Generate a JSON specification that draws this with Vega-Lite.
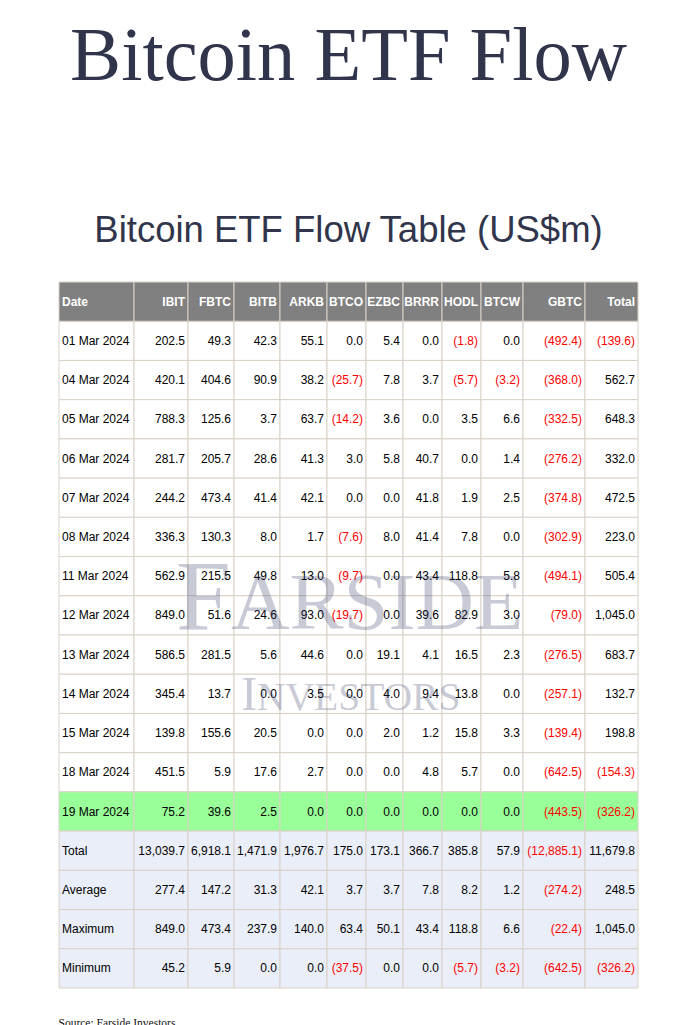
{
  "$schema": "https://vega.github.io/schema/vega-lite/v6.json",
  "padding": {"left": 58, "top": 18, "right": 0, "bottom": 0},
  "background": "#ffffff",
  "config": {
    "view": {"stroke": null},
    "rect": {"stroke": "#d9d1c6", "strokeWidth": 1},
    "text": {"font": "Liberation Sans", "fontSize": 12, "baseline": "middle", "color": "#000000"}
  },
  "datasets": {
    "flows": [
      {"Date": "01 Mar 2024", "IBIT": 202.5, "FBTC": 49.3, "BITB": 42.3, "ARKB": 55.1, "BTCO": 0.0, "EZBC": 5.4, "BRRR": 0.0, "HODL": -1.8, "BTCW": 0.0, "GBTC": -492.4, "Total": -139.6},
      {"Date": "04 Mar 2024", "IBIT": 420.1, "FBTC": 404.6, "BITB": 90.9, "ARKB": 38.2, "BTCO": -25.7, "EZBC": 7.8, "BRRR": 3.7, "HODL": -5.7, "BTCW": -3.2, "GBTC": -368.0, "Total": 562.7},
      {"Date": "05 Mar 2024", "IBIT": 788.3, "FBTC": 125.6, "BITB": 3.7, "ARKB": 63.7, "BTCO": -14.2, "EZBC": 3.6, "BRRR": 0.0, "HODL": 3.5, "BTCW": 6.6, "GBTC": -332.5, "Total": 648.3},
      {"Date": "06 Mar 2024", "IBIT": 281.7, "FBTC": 205.7, "BITB": 28.6, "ARKB": 41.3, "BTCO": 3.0, "EZBC": 5.8, "BRRR": 40.7, "HODL": 0.0, "BTCW": 1.4, "GBTC": -276.2, "Total": 332.0},
      {"Date": "07 Mar 2024", "IBIT": 244.2, "FBTC": 473.4, "BITB": 41.4, "ARKB": 42.1, "BTCO": 0.0, "EZBC": 0.0, "BRRR": 41.8, "HODL": 1.9, "BTCW": 2.5, "GBTC": -374.8, "Total": 472.5},
      {"Date": "08 Mar 2024", "IBIT": 336.3, "FBTC": 130.3, "BITB": 8.0, "ARKB": 1.7, "BTCO": -7.6, "EZBC": 8.0, "BRRR": 41.4, "HODL": 7.8, "BTCW": 0.0, "GBTC": -302.9, "Total": 223.0},
      {"Date": "11 Mar 2024", "IBIT": 562.9, "FBTC": 215.5, "BITB": 49.8, "ARKB": 13.0, "BTCO": -9.7, "EZBC": 0.0, "BRRR": 43.4, "HODL": 118.8, "BTCW": 5.8, "GBTC": -494.1, "Total": 505.4},
      {"Date": "12 Mar 2024", "IBIT": 849.0, "FBTC": 51.6, "BITB": 24.6, "ARKB": 93.0, "BTCO": -19.7, "EZBC": 0.0, "BRRR": 39.6, "HODL": 82.9, "BTCW": 3.0, "GBTC": -79.0, "Total": 1045.0},
      {"Date": "13 Mar 2024", "IBIT": 586.5, "FBTC": 281.5, "BITB": 5.6, "ARKB": 44.6, "BTCO": 0.0, "EZBC": 19.1, "BRRR": 4.1, "HODL": 16.5, "BTCW": 2.3, "GBTC": -276.5, "Total": 683.7},
      {"Date": "14 Mar 2024", "IBIT": 345.4, "FBTC": 13.7, "BITB": 0.0, "ARKB": 3.5, "BTCO": 0.0, "EZBC": 4.0, "BRRR": 9.4, "HODL": 13.8, "BTCW": 0.0, "GBTC": -257.1, "Total": 132.7},
      {"Date": "15 Mar 2024", "IBIT": 139.8, "FBTC": 155.6, "BITB": 20.5, "ARKB": 0.0, "BTCO": 0.0, "EZBC": 2.0, "BRRR": 1.2, "HODL": 15.8, "BTCW": 3.3, "GBTC": -139.4, "Total": 198.8},
      {"Date": "18 Mar 2024", "IBIT": 451.5, "FBTC": 5.9, "BITB": 17.6, "ARKB": 2.7, "BTCO": 0.0, "EZBC": 0.0, "BRRR": 4.8, "HODL": 5.7, "BTCW": 0.0, "GBTC": -642.5, "Total": -154.3},
      {"Date": "19 Mar 2024", "IBIT": 75.2, "FBTC": 39.6, "BITB": 2.5, "ARKB": 0.0, "BTCO": 0.0, "EZBC": 0.0, "BRRR": 0.0, "HODL": 0.0, "BTCW": 0.0, "GBTC": -443.5, "Total": -326.2},
      {"Date": "Total", "IBIT": 13039.7, "FBTC": 6918.1, "BITB": 1471.9, "ARKB": 1976.7, "BTCO": 175.0, "EZBC": 173.1, "BRRR": 366.7, "HODL": 385.8, "BTCW": 57.9, "GBTC": -12885.1, "Total": 11679.8},
      {"Date": "Average", "IBIT": 277.4, "FBTC": 147.2, "BITB": 31.3, "ARKB": 42.1, "BTCO": 3.7, "EZBC": 3.7, "BRRR": 7.8, "HODL": 8.2, "BTCW": 1.2, "GBTC": -274.2, "Total": 248.5},
      {"Date": "Maximum", "IBIT": 849.0, "FBTC": 473.4, "BITB": 237.9, "ARKB": 140.0, "BTCO": 63.4, "EZBC": 50.1, "BRRR": 43.4, "HODL": 118.8, "BTCW": 6.6, "GBTC": -22.4, "Total": 1045.0},
      {"Date": "Minimum", "IBIT": 45.2, "FBTC": 5.9, "BITB": 0.0, "ARKB": 0.0, "BTCO": -37.5, "EZBC": 0.0, "BRRR": 0.0, "HODL": -5.7, "BTCW": -3.2, "GBTC": -642.5, "Total": -326.2}
    ]
  },
  "title": {
    "text": "Bitcoin ETF Flow",
    "subtitle": "Bitcoin ETF Flow Table (US$m)",
    "font": "Liberation Serif",
    "fontSize": 76.5,
    "fontWeight": "normal",
    "color": "#31354b",
    "subtitleFont": "Liberation Sans",
    "subtitleFontSize": 36.5,
    "subtitleColor": "#31354b",
    "subtitlePadding": 117,
    "anchor": "middle",
    "offset": 31
  },
  "vconcat": [
    {
      "title": {"text": "Source: Farside Investors", "orient": "bottom", "anchor": "start", "font": "Liberation Serif", "fontSize": 11.5, "fontWeight": "normal", "color": "#111111", "offset": 29},
      "spacing": 0,
      "bounds": "flush",
      "resolve": {"scale": {"x": "independent", "y": "independent"}},
      "hconcat": [
        {
          "width": 75, "height": 706, "data": {"name": "flows"},
          "layer": [
            {"mark": "rect", "encoding": {"y": {"field": "Date", "type": "nominal", "axis": null, "scale": {"domain": ["Date","01 Mar 2024","04 Mar 2024","05 Mar 2024","06 Mar 2024","07 Mar 2024","08 Mar 2024","11 Mar 2024","12 Mar 2024","13 Mar 2024","14 Mar 2024","15 Mar 2024","18 Mar 2024","19 Mar 2024","Total","Average","Maximum","Minimum"], "paddingInner": 0, "paddingOuter": 0}}, "fill": {"condition": [{"test": "datum.Date === '19 Mar 2024'", "value": "#99ff99"}, {"test": "indexof(['Total','Average','Maximum','Minimum'], datum.Date) >= 0", "value": "#eaeef8"}], "value": "#ffffff"}}},
            {"mark": {"type": "text", "align": "left", "dx": 3}, "encoding": {"x": {"value": 0}, "y": {"field": "Date", "type": "nominal"}, "text": {"field": "Date"}}},
            {"data": {"values": [{"label": "Date"}]}, "mark": {"type": "rect", "fill": "#808080"}, "encoding": {"y": {"datum": "Date", "type": "nominal"}}},
            {"data": {"values": [{"label": "Date"}]}, "mark": {"type": "text", "align": "left", "dx": 3, "fontWeight": "bold", "color": "#ffffff"}, "encoding": {"x": {"value": 0}, "y": {"datum": "Date", "type": "nominal"}, "text": {"field": "label"}}}
          ]
        },
        {
          "width": 54, "height": 706, "data": {"name": "flows"},
          "layer": [
            {"mark": "rect", "encoding": {"y": {"field": "Date", "type": "nominal", "axis": null, "scale": {"domain": ["Date","01 Mar 2024","04 Mar 2024","05 Mar 2024","06 Mar 2024","07 Mar 2024","08 Mar 2024","11 Mar 2024","12 Mar 2024","13 Mar 2024","14 Mar 2024","15 Mar 2024","18 Mar 2024","19 Mar 2024","Total","Average","Maximum","Minimum"], "paddingInner": 0, "paddingOuter": 0}}, "fill": {"condition": [{"test": "datum.Date === '19 Mar 2024'", "value": "#99ff99"}, {"test": "indexof(['Total','Average','Maximum','Minimum'], datum.Date) >= 0", "value": "#eaeef8"}], "value": "#ffffff"}}},
            {"mark": {"type": "text", "align": "right", "dx": -3}, "encoding": {"x": {"value": "width"}, "y": {"field": "Date", "type": "nominal"}, "text": {"field": "IBIT", "type": "quantitative", "format": "(,.1f"}, "color": {"condition": {"test": "datum['IBIT'] < 0", "value": "#ff0000"}, "value": "#000000"}}},
            {"data": {"values": [{"label": "IBIT"}]}, "mark": {"type": "rect", "fill": "#808080"}, "encoding": {"y": {"datum": "Date", "type": "nominal"}}},
            {"data": {"values": [{"label": "IBIT"}]}, "mark": {"type": "text", "align": "right", "dx": -3, "fontWeight": "bold", "color": "#ffffff"}, "encoding": {"x": {"value": "width"}, "y": {"datum": "Date", "type": "nominal"}, "text": {"field": "label"}}}
          ]
        },
        {
          "width": 46, "height": 706, "data": {"name": "flows"},
          "layer": [
            {"mark": "rect", "encoding": {"y": {"field": "Date", "type": "nominal", "axis": null, "scale": {"domain": ["Date","01 Mar 2024","04 Mar 2024","05 Mar 2024","06 Mar 2024","07 Mar 2024","08 Mar 2024","11 Mar 2024","12 Mar 2024","13 Mar 2024","14 Mar 2024","15 Mar 2024","18 Mar 2024","19 Mar 2024","Total","Average","Maximum","Minimum"], "paddingInner": 0, "paddingOuter": 0}}, "fill": {"condition": [{"test": "datum.Date === '19 Mar 2024'", "value": "#99ff99"}, {"test": "indexof(['Total','Average','Maximum','Minimum'], datum.Date) >= 0", "value": "#eaeef8"}], "value": "#ffffff"}}},
            {"mark": {"type": "text", "align": "right", "dx": -3}, "encoding": {"x": {"value": "width"}, "y": {"field": "Date", "type": "nominal"}, "text": {"field": "FBTC", "type": "quantitative", "format": "(,.1f"}, "color": {"condition": {"test": "datum['FBTC'] < 0", "value": "#ff0000"}, "value": "#000000"}}},
            {"data": {"values": [{"label": "FBTC"}]}, "mark": {"type": "rect", "fill": "#808080"}, "encoding": {"y": {"datum": "Date", "type": "nominal"}}},
            {"data": {"values": [{"label": "FBTC"}]}, "mark": {"type": "text", "align": "right", "dx": -3, "fontWeight": "bold", "color": "#ffffff"}, "encoding": {"x": {"value": "width"}, "y": {"datum": "Date", "type": "nominal"}, "text": {"field": "label"}}}
          ]
        },
        {
          "width": 46, "height": 706, "data": {"name": "flows"},
          "layer": [
            {"mark": "rect", "encoding": {"y": {"field": "Date", "type": "nominal", "axis": null, "scale": {"domain": ["Date","01 Mar 2024","04 Mar 2024","05 Mar 2024","06 Mar 2024","07 Mar 2024","08 Mar 2024","11 Mar 2024","12 Mar 2024","13 Mar 2024","14 Mar 2024","15 Mar 2024","18 Mar 2024","19 Mar 2024","Total","Average","Maximum","Minimum"], "paddingInner": 0, "paddingOuter": 0}}, "fill": {"condition": [{"test": "datum.Date === '19 Mar 2024'", "value": "#99ff99"}, {"test": "indexof(['Total','Average','Maximum','Minimum'], datum.Date) >= 0", "value": "#eaeef8"}], "value": "#ffffff"}}},
            {"mark": {"type": "text", "align": "right", "dx": -3}, "encoding": {"x": {"value": "width"}, "y": {"field": "Date", "type": "nominal"}, "text": {"field": "BITB", "type": "quantitative", "format": "(,.1f"}, "color": {"condition": {"test": "datum['BITB'] < 0", "value": "#ff0000"}, "value": "#000000"}}},
            {"data": {"values": [{"label": "BITB"}]}, "mark": {"type": "rect", "fill": "#808080"}, "encoding": {"y": {"datum": "Date", "type": "nominal"}}},
            {"data": {"values": [{"label": "BITB"}]}, "mark": {"type": "text", "align": "right", "dx": -3, "fontWeight": "bold", "color": "#ffffff"}, "encoding": {"x": {"value": "width"}, "y": {"datum": "Date", "type": "nominal"}, "text": {"field": "label"}}}
          ]
        },
        {
          "width": 47, "height": 706, "data": {"name": "flows"},
          "layer": [
            {"mark": "rect", "encoding": {"y": {"field": "Date", "type": "nominal", "axis": null, "scale": {"domain": ["Date","01 Mar 2024","04 Mar 2024","05 Mar 2024","06 Mar 2024","07 Mar 2024","08 Mar 2024","11 Mar 2024","12 Mar 2024","13 Mar 2024","14 Mar 2024","15 Mar 2024","18 Mar 2024","19 Mar 2024","Total","Average","Maximum","Minimum"], "paddingInner": 0, "paddingOuter": 0}}, "fill": {"condition": [{"test": "datum.Date === '19 Mar 2024'", "value": "#99ff99"}, {"test": "indexof(['Total','Average','Maximum','Minimum'], datum.Date) >= 0", "value": "#eaeef8"}], "value": "#ffffff"}}},
            {"mark": {"type": "text", "align": "right", "dx": -3}, "encoding": {"x": {"value": "width"}, "y": {"field": "Date", "type": "nominal"}, "text": {"field": "ARKB", "type": "quantitative", "format": "(,.1f"}, "color": {"condition": {"test": "datum['ARKB'] < 0", "value": "#ff0000"}, "value": "#000000"}}},
            {"data": {"values": [{"label": "ARKB"}]}, "mark": {"type": "rect", "fill": "#808080"}, "encoding": {"y": {"datum": "Date", "type": "nominal"}}},
            {"data": {"values": [{"label": "ARKB"}]}, "mark": {"type": "text", "align": "right", "dx": -3, "fontWeight": "bold", "color": "#ffffff"}, "encoding": {"x": {"value": "width"}, "y": {"datum": "Date", "type": "nominal"}, "text": {"field": "label"}}}
          ]
        },
        {
          "width": 39, "height": 706, "data": {"name": "flows"},
          "layer": [
            {"mark": "rect", "encoding": {"y": {"field": "Date", "type": "nominal", "axis": null, "scale": {"domain": ["Date","01 Mar 2024","04 Mar 2024","05 Mar 2024","06 Mar 2024","07 Mar 2024","08 Mar 2024","11 Mar 2024","12 Mar 2024","13 Mar 2024","14 Mar 2024","15 Mar 2024","18 Mar 2024","19 Mar 2024","Total","Average","Maximum","Minimum"], "paddingInner": 0, "paddingOuter": 0}}, "fill": {"condition": [{"test": "datum.Date === '19 Mar 2024'", "value": "#99ff99"}, {"test": "indexof(['Total','Average','Maximum','Minimum'], datum.Date) >= 0", "value": "#eaeef8"}], "value": "#ffffff"}}},
            {"mark": {"type": "text", "align": "right", "dx": -3}, "encoding": {"x": {"value": "width"}, "y": {"field": "Date", "type": "nominal"}, "text": {"field": "BTCO", "type": "quantitative", "format": "(,.1f"}, "color": {"condition": {"test": "datum['BTCO'] < 0", "value": "#ff0000"}, "value": "#000000"}}},
            {"data": {"values": [{"label": "BTCO"}]}, "mark": {"type": "rect", "fill": "#808080"}, "encoding": {"y": {"datum": "Date", "type": "nominal"}}},
            {"data": {"values": [{"label": "BTCO"}]}, "mark": {"type": "text", "align": "right", "dx": -3, "fontWeight": "bold", "color": "#ffffff"}, "encoding": {"x": {"value": "width"}, "y": {"datum": "Date", "type": "nominal"}, "text": {"field": "label"}}}
          ]
        },
        {
          "width": 37, "height": 706, "data": {"name": "flows"},
          "layer": [
            {"mark": "rect", "encoding": {"y": {"field": "Date", "type": "nominal", "axis": null, "scale": {"domain": ["Date","01 Mar 2024","04 Mar 2024","05 Mar 2024","06 Mar 2024","07 Mar 2024","08 Mar 2024","11 Mar 2024","12 Mar 2024","13 Mar 2024","14 Mar 2024","15 Mar 2024","18 Mar 2024","19 Mar 2024","Total","Average","Maximum","Minimum"], "paddingInner": 0, "paddingOuter": 0}}, "fill": {"condition": [{"test": "datum.Date === '19 Mar 2024'", "value": "#99ff99"}, {"test": "indexof(['Total','Average','Maximum','Minimum'], datum.Date) >= 0", "value": "#eaeef8"}], "value": "#ffffff"}}},
            {"mark": {"type": "text", "align": "right", "dx": -3}, "encoding": {"x": {"value": "width"}, "y": {"field": "Date", "type": "nominal"}, "text": {"field": "EZBC", "type": "quantitative", "format": "(,.1f"}, "color": {"condition": {"test": "datum['EZBC'] < 0", "value": "#ff0000"}, "value": "#000000"}}},
            {"data": {"values": [{"label": "EZBC"}]}, "mark": {"type": "rect", "fill": "#808080"}, "encoding": {"y": {"datum": "Date", "type": "nominal"}}},
            {"data": {"values": [{"label": "EZBC"}]}, "mark": {"type": "text", "align": "right", "dx": -3, "fontWeight": "bold", "color": "#ffffff"}, "encoding": {"x": {"value": "width"}, "y": {"datum": "Date", "type": "nominal"}, "text": {"field": "label"}}}
          ]
        },
        {
          "width": 39, "height": 706, "data": {"name": "flows"},
          "layer": [
            {"mark": "rect", "encoding": {"y": {"field": "Date", "type": "nominal", "axis": null, "scale": {"domain": ["Date","01 Mar 2024","04 Mar 2024","05 Mar 2024","06 Mar 2024","07 Mar 2024","08 Mar 2024","11 Mar 2024","12 Mar 2024","13 Mar 2024","14 Mar 2024","15 Mar 2024","18 Mar 2024","19 Mar 2024","Total","Average","Maximum","Minimum"], "paddingInner": 0, "paddingOuter": 0}}, "fill": {"condition": [{"test": "datum.Date === '19 Mar 2024'", "value": "#99ff99"}, {"test": "indexof(['Total','Average','Maximum','Minimum'], datum.Date) >= 0", "value": "#eaeef8"}], "value": "#ffffff"}}},
            {"mark": {"type": "text", "align": "right", "dx": -3}, "encoding": {"x": {"value": "width"}, "y": {"field": "Date", "type": "nominal"}, "text": {"field": "BRRR", "type": "quantitative", "format": "(,.1f"}, "color": {"condition": {"test": "datum['BRRR'] < 0", "value": "#ff0000"}, "value": "#000000"}}},
            {"data": {"values": [{"label": "BRRR"}]}, "mark": {"type": "rect", "fill": "#808080"}, "encoding": {"y": {"datum": "Date", "type": "nominal"}}},
            {"data": {"values": [{"label": "BRRR"}]}, "mark": {"type": "text", "align": "right", "dx": -3, "fontWeight": "bold", "color": "#ffffff"}, "encoding": {"x": {"value": "width"}, "y": {"datum": "Date", "type": "nominal"}, "text": {"field": "label"}}}
          ]
        },
        {
          "width": 39, "height": 706, "data": {"name": "flows"},
          "layer": [
            {"mark": "rect", "encoding": {"y": {"field": "Date", "type": "nominal", "axis": null, "scale": {"domain": ["Date","01 Mar 2024","04 Mar 2024","05 Mar 2024","06 Mar 2024","07 Mar 2024","08 Mar 2024","11 Mar 2024","12 Mar 2024","13 Mar 2024","14 Mar 2024","15 Mar 2024","18 Mar 2024","19 Mar 2024","Total","Average","Maximum","Minimum"], "paddingInner": 0, "paddingOuter": 0}}, "fill": {"condition": [{"test": "datum.Date === '19 Mar 2024'", "value": "#99ff99"}, {"test": "indexof(['Total','Average','Maximum','Minimum'], datum.Date) >= 0", "value": "#eaeef8"}], "value": "#ffffff"}}},
            {"mark": {"type": "text", "align": "right", "dx": -3}, "encoding": {"x": {"value": "width"}, "y": {"field": "Date", "type": "nominal"}, "text": {"field": "HODL", "type": "quantitative", "format": "(,.1f"}, "color": {"condition": {"test": "datum['HODL'] < 0", "value": "#ff0000"}, "value": "#000000"}}},
            {"data": {"values": [{"label": "HODL"}]}, "mark": {"type": "rect", "fill": "#808080"}, "encoding": {"y": {"datum": "Date", "type": "nominal"}}},
            {"data": {"values": [{"label": "HODL"}]}, "mark": {"type": "text", "align": "right", "dx": -3, "fontWeight": "bold", "color": "#ffffff"}, "encoding": {"x": {"value": "width"}, "y": {"datum": "Date", "type": "nominal"}, "text": {"field": "label"}}}
          ]
        },
        {
          "width": 42, "height": 706, "data": {"name": "flows"},
          "layer": [
            {"mark": "rect", "encoding": {"y": {"field": "Date", "type": "nominal", "axis": null, "scale": {"domain": ["Date","01 Mar 2024","04 Mar 2024","05 Mar 2024","06 Mar 2024","07 Mar 2024","08 Mar 2024","11 Mar 2024","12 Mar 2024","13 Mar 2024","14 Mar 2024","15 Mar 2024","18 Mar 2024","19 Mar 2024","Total","Average","Maximum","Minimum"], "paddingInner": 0, "paddingOuter": 0}}, "fill": {"condition": [{"test": "datum.Date === '19 Mar 2024'", "value": "#99ff99"}, {"test": "indexof(['Total','Average','Maximum','Minimum'], datum.Date) >= 0", "value": "#eaeef8"}], "value": "#ffffff"}}},
            {"mark": {"type": "text", "align": "right", "dx": -3}, "encoding": {"x": {"value": "width"}, "y": {"field": "Date", "type": "nominal"}, "text": {"field": "BTCW", "type": "quantitative", "format": "(,.1f"}, "color": {"condition": {"test": "datum['BTCW'] < 0", "value": "#ff0000"}, "value": "#000000"}}},
            {"data": {"values": [{"label": "BTCW"}]}, "mark": {"type": "rect", "fill": "#808080"}, "encoding": {"y": {"datum": "Date", "type": "nominal"}}},
            {"data": {"values": [{"label": "BTCW"}]}, "mark": {"type": "text", "align": "right", "dx": -3, "fontWeight": "bold", "color": "#ffffff"}, "encoding": {"x": {"value": "width"}, "y": {"datum": "Date", "type": "nominal"}, "text": {"field": "label"}}}
          ]
        },
        {
          "width": 62, "height": 706, "data": {"name": "flows"},
          "layer": [
            {"mark": "rect", "encoding": {"y": {"field": "Date", "type": "nominal", "axis": null, "scale": {"domain": ["Date","01 Mar 2024","04 Mar 2024","05 Mar 2024","06 Mar 2024","07 Mar 2024","08 Mar 2024","11 Mar 2024","12 Mar 2024","13 Mar 2024","14 Mar 2024","15 Mar 2024","18 Mar 2024","19 Mar 2024","Total","Average","Maximum","Minimum"], "paddingInner": 0, "paddingOuter": 0}}, "fill": {"condition": [{"test": "datum.Date === '19 Mar 2024'", "value": "#99ff99"}, {"test": "indexof(['Total','Average','Maximum','Minimum'], datum.Date) >= 0", "value": "#eaeef8"}], "value": "#ffffff"}}},
            {"mark": {"type": "text", "align": "right", "dx": -3}, "encoding": {"x": {"value": "width"}, "y": {"field": "Date", "type": "nominal"}, "text": {"field": "GBTC", "type": "quantitative", "format": "(,.1f"}, "color": {"condition": {"test": "datum['GBTC'] < 0", "value": "#ff0000"}, "value": "#000000"}}},
            {"data": {"values": [{"label": "GBTC"}]}, "mark": {"type": "rect", "fill": "#808080"}, "encoding": {"y": {"datum": "Date", "type": "nominal"}}},
            {"data": {"values": [{"label": "GBTC"}]}, "mark": {"type": "text", "align": "right", "dx": -3, "fontWeight": "bold", "color": "#ffffff"}, "encoding": {"x": {"value": "width"}, "y": {"datum": "Date", "type": "nominal"}, "text": {"field": "label"}}}
          ]
        },
        {
          "width": 53, "height": 706, "data": {"name": "flows"},
          "layer": [
            {"mark": "rect", "encoding": {"y": {"field": "Date", "type": "nominal", "axis": null, "scale": {"domain": ["Date","01 Mar 2024","04 Mar 2024","05 Mar 2024","06 Mar 2024","07 Mar 2024","08 Mar 2024","11 Mar 2024","12 Mar 2024","13 Mar 2024","14 Mar 2024","15 Mar 2024","18 Mar 2024","19 Mar 2024","Total","Average","Maximum","Minimum"], "paddingInner": 0, "paddingOuter": 0}}, "fill": {"condition": [{"test": "datum.Date === '19 Mar 2024'", "value": "#99ff99"}, {"test": "indexof(['Total','Average','Maximum','Minimum'], datum.Date) >= 0", "value": "#eaeef8"}], "value": "#ffffff"}}},
            {"mark": {"type": "text", "align": "right", "dx": -3}, "encoding": {"x": {"value": "width"}, "y": {"field": "Date", "type": "nominal"}, "text": {"field": "Total", "type": "quantitative", "format": "(,.1f"}, "color": {"condition": {"test": "datum['Total'] < 0", "value": "#ff0000"}, "value": "#000000"}}},
            {"data": {"values": [{"label": "Total"}]}, "mark": {"type": "rect", "fill": "#808080"}, "encoding": {"y": {"datum": "Date", "type": "nominal"}}},
            {"data": {"values": [{"label": "Total"}]}, "mark": {"type": "text", "align": "right", "dx": -3, "fontWeight": "bold", "color": "#ffffff"}, "encoding": {"x": {"value": "width"}, "y": {"datum": "Date", "type": "nominal"}, "text": {"field": "label"}}},
            {"data": {"values": [{"w": "F"}]}, "mark": {"type": "text", "align": "left", "baseline": "alphabetic", "font": "Liberation Serif", "fontSize": 99, "color": "#2a3060", "opacity": 0.25, "dx": -409, "dy": 14}, "encoding": {"x": {"value": 0}, "y": {"datum": "12 Mar 2024", "type": "nominal"}, "text": {"field": "w"}}},
            {"data": {"values": [{"w": "ARSIDE"}]}, "mark": {"type": "text", "align": "left", "baseline": "alphabetic", "font": "Liberation Serif", "fontSize": 81, "color": "#2a3060", "opacity": 0.25, "dx": -354, "dy": 14}, "encoding": {"x": {"value": 0}, "y": {"datum": "12 Mar 2024", "type": "nominal"}, "text": {"field": "w"}}},
            {"data": {"values": [{"w": "I"}]}, "mark": {"type": "text", "align": "left", "baseline": "alphabetic", "font": "Liberation Serif", "fontSize": 49, "color": "#2a3060", "opacity": 0.25, "dx": -344, "dy": 16}, "encoding": {"x": {"value": 0}, "y": {"datum": "14 Mar 2024", "type": "nominal"}, "text": {"field": "w"}}},
            {"data": {"values": [{"w": "NVESTORS"}]}, "mark": {"type": "text", "align": "left", "baseline": "alphabetic", "font": "Liberation Serif", "fontSize": 39.5, "color": "#2a3060", "opacity": 0.25, "dx": -328, "dy": 16}, "encoding": {"x": {"value": 0}, "y": {"datum": "14 Mar 2024", "type": "nominal"}, "text": {"field": "w"}}}
          ]
        }
      ]
    }
  ]
}
